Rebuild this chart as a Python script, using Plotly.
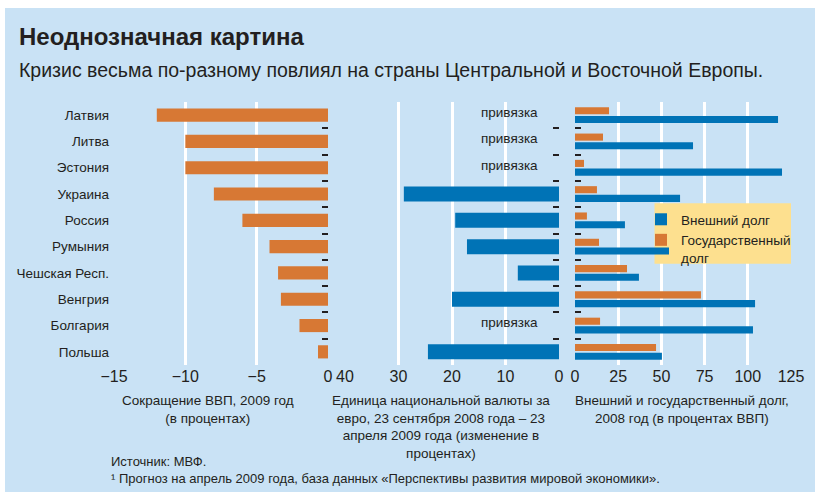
import plotly.graph_objects as go

W, H = 815, 496

countries = ["Латвия", "Литва", "Эстония", "Украина", "Россия", "Румыния",
             "Чешская Респ.", "Венгрия", "Болгария", "Польша"]
gdp_decline = [-12.0, -10.0, -10.0, -8.0, -6.0, -4.1, -3.5, -3.3, -2.0, -0.7]
currency_change = [None, None, None, 29.0, 19.4, 17.2, 7.7, 20.0, None, 24.5]
pegged = ["Латвия", "Литва", "Эстония", "Болгария"]
peg_label = "привязка"
external_debt = [117.5, 68.3, 119.8, 60.8, 28.9, 54.4, 37.0, 104.2, 103.0, 50.3]
public_debt = [19.7, 16.2, 5.2, 12.7, 6.9, 13.9, 30.1, 72.9, 14.5, 46.9]

gdp_ticks = [-15, -10, -5, 0]
fx_ticks = [40, 30, 20, 10, 0]
debt_ticks = [0, 25, 50, 75, 100, 125]

title = "Неоднозначная картина"
subtitle = "Кризис весьма по-разному повлиял на страны Центральной и Восточной Европы."
gdp_title = ["Сокращение ВВП, 2009 год", "(в процентах)"]
fx_title = ["Единица национальной валюты за", "евро, 23 сентября 2008 года – 23",
            "апреля 2009 года (изменение в", "процентах)"]
debt_title = ["Внешний и государственный долг,", "2008 год (в процентах ВВП)"]
source = ["Источник: МВФ.",
          "¹ Прогноз на апрель 2009 года, база данных «Перспективы развития мировой экономики»."]

BG = "#c9e2f5"
PLOT = "#fde08f"
ORANGE = "#d77834"
BLUE = "#0073b6"
TXT = "#231f20"
FONT = "Liberation Sans, Arial, sans-serif"
SMALL = 13.5


def px(x):
    return x / W


def py(y):
    return 1 - y / H


n = len(countries)
idx = list(range(n))
bounds = [i - 0.5 for i in range(n + 1)]
yr = [n - 0.5, -0.5]
ydom = [py(365), py(102)]

fig = go.Figure()
fig.add_trace(go.Bar(x=gdp_decline, y=idx, orientation="h", xaxis="x", yaxis="y",
                     marker=dict(color=ORANGE, line=dict(width=0)), width=0.5,
                     showlegend=False, hoverinfo="x"))
fig.add_trace(go.Bar(x=currency_change, y=idx, orientation="h", xaxis="x2", yaxis="y2",
                     marker=dict(color=BLUE, line=dict(width=0)), width=0.57,
                     showlegend=False, hoverinfo="x"))
fig.add_trace(go.Bar(x=external_debt, y=idx, orientation="h", xaxis="x3", yaxis="y3",
                     marker=dict(color=BLUE, line=dict(width=0)), width=0.27, offset=0.03,
                     name="Внешний долг"))
fig.add_trace(go.Bar(x=public_debt, y=idx, orientation="h", xaxis="x3", yaxis="y3",
                     marker=dict(color=ORANGE, line=dict(width=0)), width=0.27, offset=-0.3,
                     name="Государственный<br>долг"))
# dummy trace for the boundary tick axis of panel 1
fig.add_trace(go.Scatter(x=[None], y=[None], xaxis="x", yaxis="y4", showlegend=False,
                         hoverinfo="skip"))

xcommon = dict(showgrid=True, gridcolor="white", gridwidth=3, zeroline=False, ticks="",
               showline=False, tickfont=dict(family=FONT, size=16, color=TXT),
               automargin=False, fixedrange=True)
tickax = dict(range=yr, tickvals=bounds, ticks="inside", ticklen=6, tickwidth=1.5,
              tickcolor=TXT, showticklabels=False, showgrid=False, zeroline=False,
              showline=False, automargin=False, fixedrange=True)

fig.update_layout(
    width=W, height=H,
    margin=dict(l=0, r=0, t=0, b=0),
    paper_bgcolor="white", plot_bgcolor=PLOT,
    barmode="overlay",
    font=dict(family=FONT, size=SMALL, color=TXT),
    xaxis=dict(domain=[px(114), px(328)], range=[-15, 0], tickvals=gdp_ticks,
               anchor="y", **xcommon),
    xaxis2=dict(domain=[px(345), px(559)], range=[40, 0], tickvals=fx_ticks,
                anchor="y2", **xcommon),
    xaxis3=dict(domain=[px(575), px(791)], range=[0, 125], tickvals=debt_ticks,
                anchor="y3", **xcommon),
    yaxis=dict(domain=ydom, range=yr, tickvals=idx, ticktext=countries, ticks="",
               showgrid=False, zeroline=False, anchor="x", automargin=False,
               tickfont=dict(family=FONT, size=SMALL, color=TXT), ticklabelstandoff=4,
               fixedrange=True),
    yaxis4=dict(overlaying="y", side="right", anchor="x", **tickax),
    yaxis2=dict(domain=ydom, anchor="x2", side="right", **tickax),
    yaxis3=dict(domain=ydom, anchor="x3", side="left", **tickax),
    legend=dict(x=px(641), y=py(204), xanchor="left", yanchor="top",
                bgcolor="rgba(0,0,0,0)", valign="top",
                font=dict(family=FONT, size=SMALL, color=TXT), itemwidth=30,
                tracegroupgap=0, borderwidth=0),
    shapes=[
        dict(type="rect", xref="paper", yref="paper", x0=px(5), x1=px(815),
             y0=py(492), y1=py(8), fillcolor=BG, line=dict(width=0), layer="below"),
        # plain patch behind the legend that interrupts the grid lines
        dict(type="rect", xref="x3", yref="y3", x0=46, x1=125,
             y0=3.35, y1=5.65, fillcolor=PLOT, line=dict(width=0), layer="between"),
    ],
)

ann = []
ann.append(dict(text="<b>" + title + "</b>", x=px(17), y=py(37), xanchor="left",
                yanchor="middle", font=dict(family=FONT, size=24, color=TXT)))
ann.append(dict(text=subtitle, x=px(17), y=py(70), xanchor="left", yanchor="middle",
                font=dict(family=FONT, size=19.5, color=TXT)))


def add_block(lines, cx, ytop, size=SMALL, anchor="center", align="center"):
    ann.append(dict(text="<br>".join(lines), x=px(cx), y=py(ytop), xanchor=anchor,
                    yanchor="top", align=align,
                    font=dict(family=FONT, size=size, color=TXT)))


add_block(gdp_title, 208, 391)
add_block(fx_title, 441, 391)
add_block(debt_title, 682, 391)
add_block(source, 109, 452, size=13, anchor="left", align="left")

for c in pegged:
    ann.append(dict(text=peg_label, x=9.3, y=countries.index(c) - 0.1, xref="x2", yref="y2",
                    xanchor="center", yanchor="middle",
                    font=dict(family=FONT, size=SMALL, color=TXT)))

for a in ann:
    a.setdefault("xref", "paper")
    a.setdefault("yref", "paper")
    a["showarrow"] = False
fig.update_layout(annotations=ann)

fig.write_html("out.html", config={"displayModeBar": False},
               post_script="document.body.style.margin='0';")
